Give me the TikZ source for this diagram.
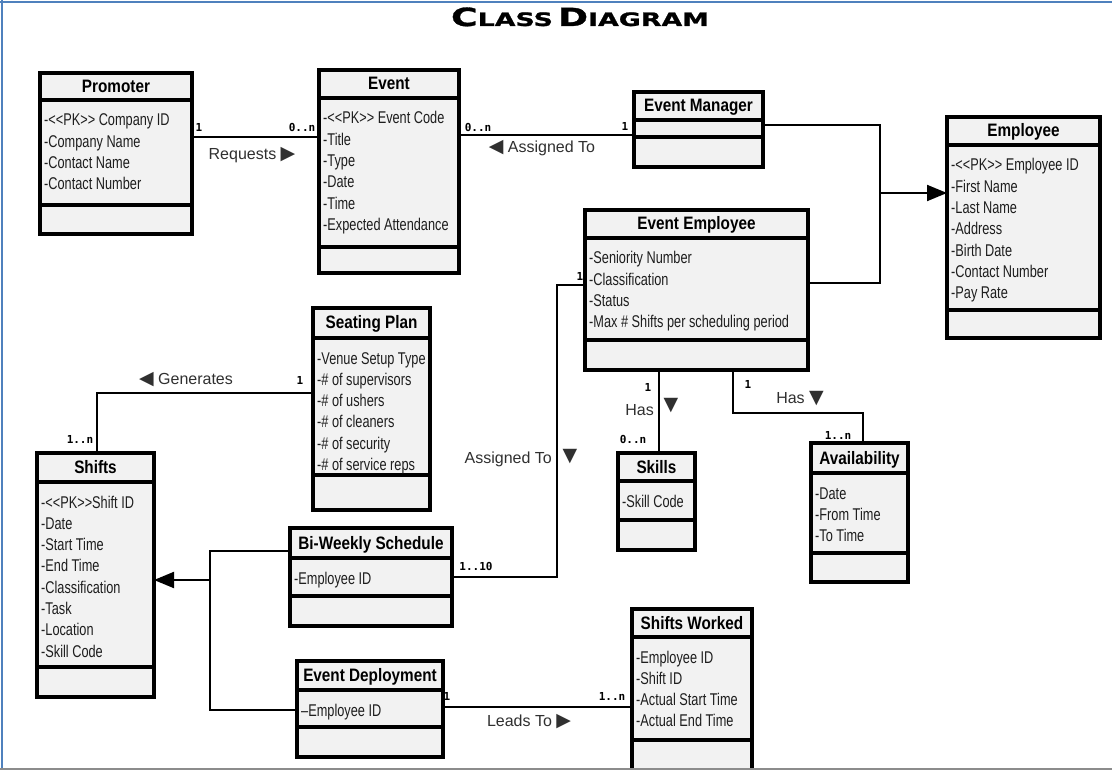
\documentclass[tikz,border=0pt]{standalone}
\usepackage{fontspec}
\usetikzlibrary{arrows.meta}
\setmainfont{Liberation Sans}
\newfontfamily\attrfont{Liberation Sans}[FakeStretch=0.75,Ligatures=TeXOff]
\newfontfamily\headfont{Liberation Sans}[FakeStretch=0.85]
\newfontfamily\symfont{DejaVu Sans}
\newfontfamily\multfont{DejaVu Sans Mono}
\newfontfamily\bannerfont{DejaVu Sans Bold}[FakeStretch=1.45,FakeBold=1.2]

\definecolor{boxfill}{HTML}{F2F2F2}
\definecolor{frameblue}{HTML}{4F81BD}
\definecolor{framegray}{HTML}{8C8C8C}
\definecolor{txtgray}{HTML}{1E1E1E}
\definecolor{labelgray}{HTML}{303030}

% triangle marks that show the reading direction of an association
\newcommand\tri[1]{{\symfont\fontsize{19}{19}\selectfont #1}}

\tikzset{
  classbox/.style={draw=black, line width=3.4pt, fill=boxfill, inner sep=0pt, outer sep=0pt},
  divider/.style={line width=3.2pt},
  classtitle/.style={font=\headfont\bfseries\fontsize{18}{20}\selectfont, text=black, inner sep=0pt, anchor=base},
  attrtext/.style={font=\attrfont\fontsize{17}{19}\selectfont, text=txtgray, inner sep=0pt, anchor=base west},
  conn/.style={line width=2pt},
  mult/.style={font=\multfont\bfseries\fontsize{11}{12}\selectfont, inner sep=0pt},
  rolelabel/.style={font=\fontsize{16}{18}\selectfont, text=labelgray, inner sep=0pt},
  genarrow/.style={conn, -{Triangle[length=20pt,width=16pt]}},
}

% #1 name, #2 left, #3 right, #4 top, #5 title rule, #6 attribute rule, #7 bottom,
% #8 class name, #9 attribute list
\newcommand\umlclass[9]{%
  \node[classbox, minimum width={(#3-#2)*1pt}, minimum height={(#7-#4)*1pt}]
    (#1) at ({(#2+#3)/2},{(#4+#7)/2}) {};
  \draw[divider] (#2,#5) -- (#3,#5);
  \draw[divider] (#2,#6) -- (#3,#6);
  \node[classtitle] (#1-title) at ({(#2+#3)/2},{(#4+#5)/2+6}) {#8};
  \foreach \attr [count=\k from 0] in {#9} {
    \node[attrtext] (#1-attr\k) at (#2+4,{#5+26+21.3*\k}) {\attr};
  }
}

\begin{document}
\begin{tikzpicture}[x=1pt,y=-1pt]
\useasboundingbox (0,0) rectangle (1112,770);
\fill[white] (0,0) rectangle (1112,770);

% page frame
\draw[line width=2.5pt, frameblue] (0,2) -- (1112,2);
\draw[line width=2.5pt, frameblue] (2,0) -- (2,770);

% heading
\node[anchor=base, inner sep=0pt] (heading) at (580,26)
  {\bannerfont{\fontsize{25}{25}\selectfont C}{\fontsize{18.5}{18.5}\selectfont LASS}
   {\fontsize{25}{25}\selectfont D}{\fontsize{18.5}{18.5}\selectfont IAGRAM}};

% classes
\umlclass{promoter}{40}{192}{73}{100}{205}{234}{Promoter}
  {-<<PK>> Company ID, -Company Name, -Contact Name, -Contact Number}
\umlclass{event}{319}{459}{70}{98}{247}{273}{Event}
  {-<<PK>> Event Code, -Title, -Type, -Date, -Time, -Expected Attendance}
\umlclass{eventmgr}{634}{763}{92}{120}{137}{167}{Event Manager}{}
\umlclass{employee}{947}{1100}{117}{145}{310}{338}{Employee}
  {-<<PK>> Employee ID, -First Name, -Last Name, -Address, -Birth Date, -Contact Number, -Pay Rate}
\umlclass{evemp}{585}{808}{210}{238}{340}{370}{Event Employee}
  {-Seniority Number, -Classification, -Status, -Max \# Shifts per scheduling period}
\umlclass{seating}{313}{430}{308}{338}{475}{510}{Seating Plan}
  {-Venue Setup Type, -\# of supervisors, -\# of ushers, -\# of cleaners, -\# of security, -\# of service reps}
\umlclass{shifts}{37}{154}{453}{482}{667}{697}{Shifts}
  {-<<PK>>Shift ID, -Date, -Start Time, -End Time, -Classification, -Task, -Location, -Skill Code}
\umlclass{biweekly}{290}{452}{528}{558}{596}{626}{Bi-Weekly Schedule}{-Employee ID}
\umlclass{deploy}{297}{443}{661}{690}{727}{757}{Event Deployment}{–Employee ID}
\umlclass{shiftsw}{632}{752}{609}{637}{740}{776}{Shifts Worked}
  {-Employee ID, -Shift ID, -Actual Start Time, -Actual End Time}
\umlclass{skills}{618}{695}{453}{481}{520}{550}{Skills}{-Skill Code}
\umlclass{avail}{811}{908}{443}{473}{553}{582}{Availability}{-Date, -From Time, -To Time}

% bends and junctions of the connectors
\coordinate (req) at (250,137);
\coordinate (asgm) at (540,135);
\coordinate (empbus-top) at (880,125);
\coordinate (empbus-mid) at (880,193);
\coordinate (empbus-bot) at (880,283);
\coordinate (asg-top) at (557,285);
\coordinate (asg-bot) at (557,577);
\coordinate (skl) at (659,410);
\coordinate (av-a) at (733,413);
\coordinate (av-b) at (863,413);
\coordinate (gen-corner) at (97,393);
\coordinate (sbus-top) at (210,551);
\coordinate (sbus-mid) at (210,580);
\coordinate (sbus-bot) at (210,710);
\coordinate (lead) at (540,707);

% associations
\draw[conn] (promoter.east |- req) -- (event.west |- req);
\draw[conn] (event.east |- asgm) -- (eventmgr.west |- asgm);
\draw[conn] (evemp.west |- asg-top) -- (asg-top) -- (asg-bot) -- (biweekly.east |- asg-bot);
\draw[conn] (evemp.south -| skl) -- (skills.north -| skl);
\draw[conn] (evemp.south -| av-a) -- (av-a) -- (av-b) -- (avail.north -| av-b);
\draw[conn] (seating.west |- gen-corner) -- (gen-corner) -- (shifts.north -| gen-corner);
\draw[conn] (deploy.east |- lead) -- (shiftsw.west |- lead);

% generalisations
\draw[conn] (eventmgr.east |- empbus-top) -- (empbus-top) -- (empbus-bot) -- (evemp.east |- empbus-bot);
\draw[genarrow] (empbus-mid) -- (employee.west |- empbus-mid);
\draw[conn] (biweekly.west |- sbus-top) -- (sbus-top) -- (sbus-bot) -- (deploy.west |- sbus-bot);
\draw[genarrow] (sbus-mid) -- (shifts.east |- sbus-mid);

% multiplicities and association names
\node[mult] (m-pr) at (199,127) {1};
\node[mult] (m-ev1) at (302,127) {0..n};
\node[rolelabel] (l-req) at (252,155) {Requests \tri{▶}};
\node[mult] (m-ev2) at (478,127) {0..n};
\node[mult] (m-em) at (625,126) {1};
\node[rolelabel] (l-asg1) at (542,148) {\tri{◀} Assigned To};
\node[mult] (m-sp) at (300,380) {1};
\node[rolelabel] (l-gen) at (186,380) {\tri{◀} Generates};
\node[mult] (m-sh) at (80,439) {1..n};
\node[mult] (m-ee1) at (580,276) {1};
\node[rolelabel, anchor=east] (l-asg2) at (552,459) {Assigned To};
\node[rolelabel] (l-asg2t) at (570,457) {\tri{▼}};
\node[mult] (m-bw) at (476,566) {1..10};
\node[mult] (m-ee2) at (648,387) {1};
\node[rolelabel, anchor=east] (l-has1) at (654,410) {Has};
\node[rolelabel] (l-has1t) at (671,406) {\tri{▼}};
\node[mult] (m-sk) at (633,439) {0..n};
\node[mult] (m-ee3) at (748,384) {1};
\node[rolelabel] (l-has2) at (800,399) {Has \tri{▼}};
\node[mult] (m-av) at (838,435) {1..n};
\node[mult] (m-dp) at (447,696) {1};
\node[mult] (m-sw) at (612,696) {1..n};
\node[rolelabel] (l-lead) at (529,722) {Leads To \tri{▶}};

% bottom edge of the page
\draw[line width=2pt, framegray] (0,768.5) -- (1112,768.5);
\end{tikzpicture}
\end{document}
